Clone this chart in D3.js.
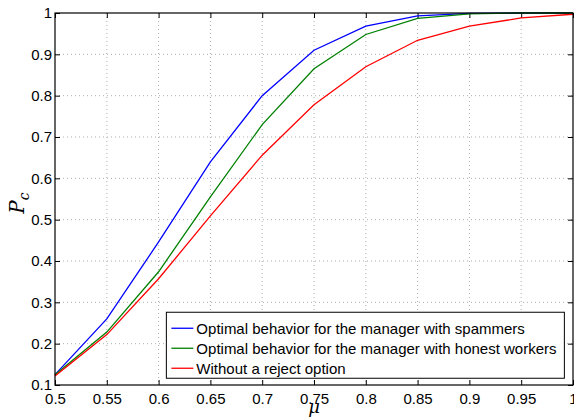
<!DOCTYPE html>
<html>
<head>
<meta charset="utf-8">
<script src="https://cdn.jsdelivr.net/npm/d3@7"></script>
<style>
  body { margin: 0; background: #fff; }
  svg { display: block; }
  .tick text { font-family: "Liberation Sans", Arial, sans-serif; font-size: 15px; fill: #000; }
</style>
</head>
<body>
<div id="chart"></div>
<script>
// data
const mu = [0.5, 0.55, 0.6, 0.65, 0.7, 0.75, 0.8, 0.85, 0.9, 0.95, 1.0];
const spammers = [0.125, 0.26, 0.446, 0.64, 0.80, 0.91, 0.968, 0.993, 0.999, 1.0, 1.0];
const honest = [0.125, 0.228, 0.374, 0.555, 0.730, 0.865, 0.948, 0.987, 0.998, 1.0, 1.0];
const noReject = [0.122, 0.222, 0.357, 0.509, 0.656, 0.778, 0.870, 0.934, 0.968, 0.988, 0.997];
const xTicks = [0.5, 0.55, 0.6, 0.65, 0.7, 0.75, 0.8, 0.85, 0.9, 0.95, 1];
const yTicks = [0.1, 0.2, 0.3, 0.4, 0.5, 0.6, 0.7, 0.8, 0.9, 1];
const seriesNames = [
    "Optimal behavior for the manager with spammers",
    "Optimal behavior for the manager with honest workers",
    "Without a reject option"
];
const seriesColors = ["#0000ff", "#008000", "#ff0000"];

const W = 574, H = 418;
const margin = { top: 13, right: 1, bottom: 33, left: 55 };
const width = W - margin.left - margin.right;
const height = H - margin.top - margin.bottom;

const svg = d3.select("#chart").append("svg")
    .attr("width", W)
    .attr("height", H);

const g = svg.append("g")
    .attr("transform", `translate(${margin.left},${margin.top})`);

const x = d3.scaleLinear().domain([0.5, 1]).range([0, width]);
const y = d3.scaleLinear().domain([0.1, 1]).range([height, 0]);

// dotted grid
g.append("g").selectAll("line")
    .data(xTicks.slice(1, -1))
    .enter().append("line")
    .attr("x1", d => x(d)).attr("x2", d => x(d))
    .attr("y1", 0).attr("y2", height)
    .attr("stroke", "#999").attr("stroke-width", 0.8)
    .attr("stroke-dasharray", "1,3");

g.append("g").selectAll("line")
    .data(yTicks.slice(1, -1))
    .enter().append("line")
    .attr("x1", 0).attr("x2", width)
    .attr("y1", d => y(d)).attr("y2", d => y(d))
    .attr("stroke", "#999").attr("stroke-width", 0.8)
    .attr("stroke-dasharray", "1,3");

// axes with inward ticks
const fmt = d => d3.format("~g")(d);
const xAxis = g.append("g")
    .attr("transform", `translate(0,${height})`)
    .call(d3.axisBottom(x).tickValues(xTicks).tickFormat(fmt).tickSize(-5).tickPadding(8));
const yAxis = g.append("g")
    .call(d3.axisLeft(y).tickValues(yTicks).tickFormat(fmt).tickSize(-5).tickPadding(3));
const xTop = g.append("g")
    .call(d3.axisTop(x).tickValues(xTicks).tickFormat("").tickSize(-5));
const yRight = g.append("g")
    .attr("transform", `translate(${width},0)`)
    .call(d3.axisRight(y).tickValues(yTicks).tickFormat("").tickSize(-5));

[xAxis, yAxis, xTop, yRight].forEach(a => {
    a.select(".domain").remove();
    a.selectAll(".tick line").attr("stroke", "#000").attr("stroke-width", 1);
});

// lines
const line = d3.line()
    .x((d, i) => x(mu[i]))
    .y(d => y(d));

[spammers, honest, noReject].forEach((s, i) => {
    g.append("path")
        .datum(s)
        .attr("d", line)
        .attr("fill", "none")
        .attr("stroke", seriesColors[i])
        .attr("stroke-width", 1.3);
});

// frame
g.append("rect")
    .attr("width", width).attr("height", height)
    .attr("fill", "none").attr("stroke", "#000").attr("stroke-width", 1.2);

// legend
const legend = g.append("g")
    .attr("transform", `translate(${x(0.6075)},${y(0.276)})`);
legend.append("rect")
    .attr("width", 398).attr("height", 66)
    .attr("fill", "#fff").attr("stroke", "#000").attr("stroke-width", 1);
seriesNames.forEach((name, i) => {
    const row = legend.append("g").attr("transform", `translate(0,${16 + i * 20})`);
    row.append("line")
        .attr("x1", 5).attr("x2", 27)
        .attr("stroke", seriesColors[i]).attr("stroke-width", 1.3);
    row.append("text")
        .attr("x", 30).attr("dy", "0.35em")
        .style("font-family", "Liberation Sans, Arial, sans-serif")
        .style("font-size", "15px")
        .text(name);
});

// axis labels
svg.append("text")
    .attr("transform", `translate(24,${margin.top + height / 2 + 4}) rotate(-90)`)
    .attr("text-anchor", "middle")
    .style("font-family", "DejaVu Serif, serif")
    .style("font-style", "italic")
    .style("font-size", "20px")
    .html('P<tspan dy="5" font-size="14px">c</tspan>');

svg.append("text")
    .attr("x", margin.left + x(0.75))
    .attr("y", 413)
    .attr("text-anchor", "middle")
    .style("font-family", "DejaVu Serif, serif")
    .style("font-style", "italic")
    .style("font-size", "18px")
    .text("μ");
</script>
</body>
</html>
